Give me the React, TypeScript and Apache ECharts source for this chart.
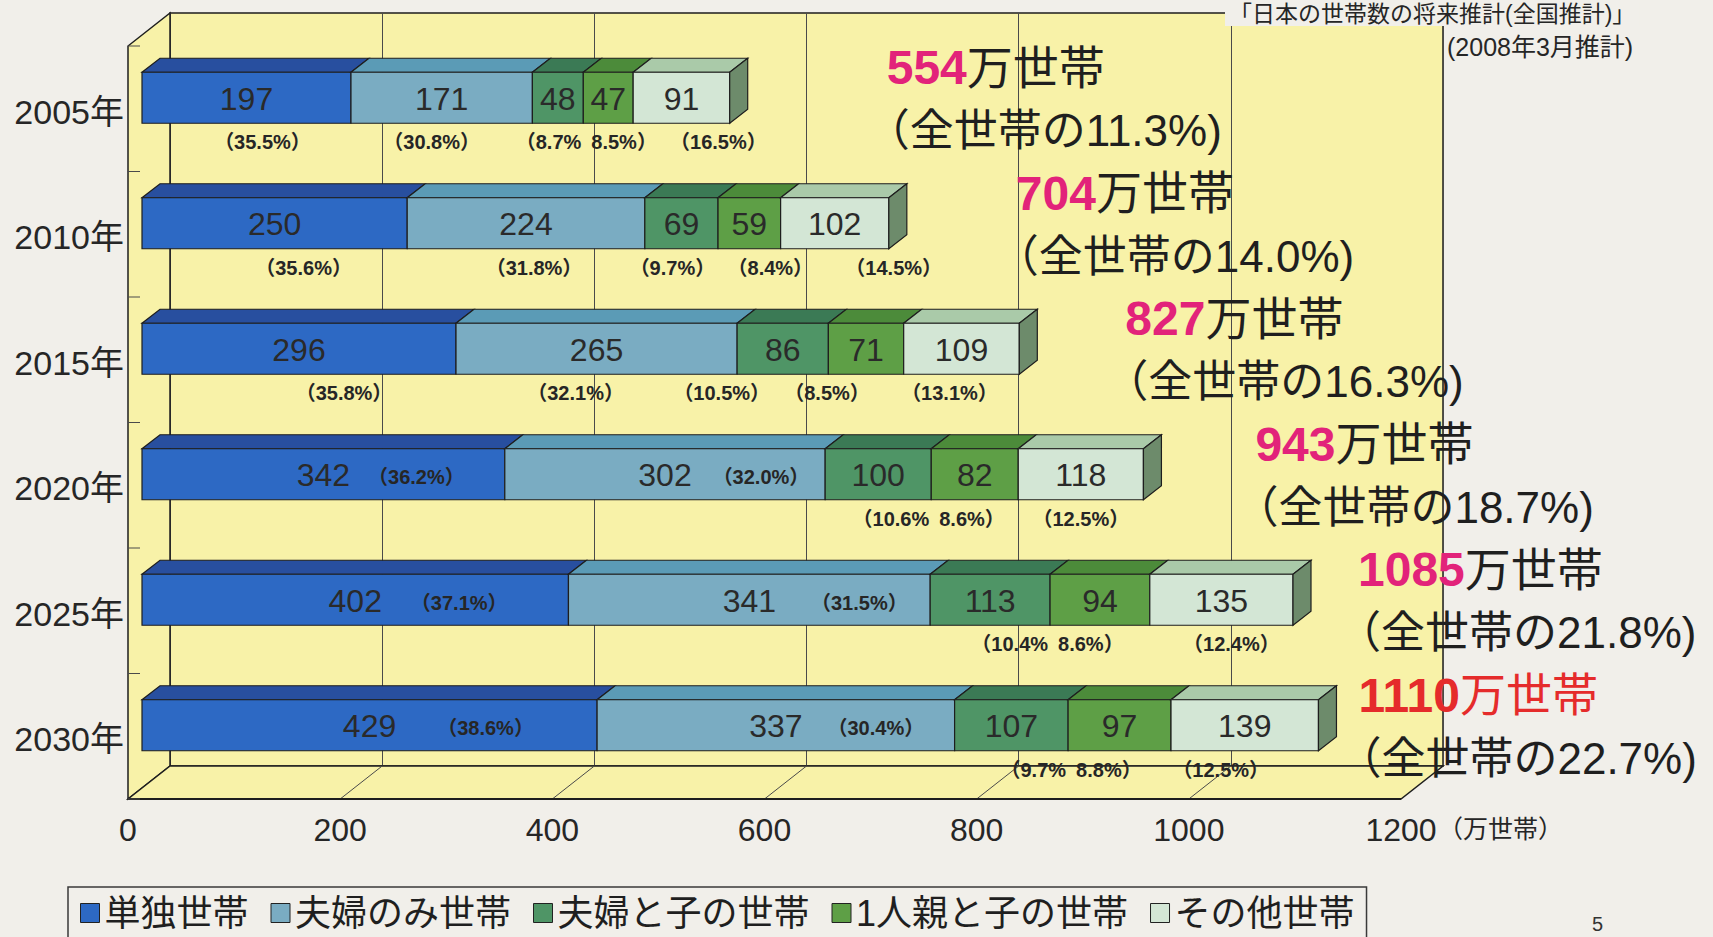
import React, { useEffect, useRef } from 'react';
import * as echarts from 'echarts';

// ---------- data ----------
const years = ['2005年', '2010年', '2015年', '2020年', '2025年', '2030年'];
const seriesNames = ['単独世帯', '夫婦のみ世帯', '夫婦と子の世帯', '1人親と子の世帯', 'その他世帯'];
const single = [197, 250, 296, 342, 402, 429];
const coupleOnly = [171, 224, 265, 302, 341, 337];
const coupleChildren = [48, 69, 86, 100, 113, 107];
const singleParent = [47, 59, 71, 82, 94, 97];
const others = [91, 102, 109, 118, 135, 139];
const singlePct = [35.5, 35.6, 35.8, 36.2, 37.1, 38.6];
const coupleOnlyPct = [30.8, 31.8, 32.1, 32.0, 31.5, 30.4];
const coupleChildrenPct = [8.7, 9.7, 10.5, 10.6, 10.4, 9.7];
const singleParentPct = [8.5, 8.4, 8.5, 8.6, 8.6, 8.8];
const othersPct = [16.5, 14.5, 13.1, 12.5, 12.4, 12.5];
const totals = [554, 704, 827, 943, 1085, 1110];
const totalShare = [11.3, 14.0, 16.3, 18.7, 21.8, 22.7];
const X_MIN = 0;
const X_MAX = 1200;
const X_INTERVAL = 200;
const X_UNIT = '（万世帯）';
const SOURCE_1 = '「日本の世帯数の将来推計(全国推計)」';
const SOURCE_2 = '(2008年3月推計)';
const PAGE_NO = '5';

// ---------- styles ----------
const FONT = "'Liberation Sans', 'Noto Sans CJK JP', sans-serif";
const PAGE_BG = '#f1efea';
const WALL = '#f8f2a8';
const EDGE = '#1e1e1e';
const GRID = '#4a4a4a';
const TEXT = '#262626';
const palette = [
  { front: '#2d69c4', top: '#284f9f' },
  { front: '#7aacc2', top: '#5b9bb6' },
  { front: '#4f9566', top: '#3b7a55' },
  { front: '#5e9f46', top: '#4c8b3a' },
  { front: '#d3e6d5', top: '#aacaa9', side: '#6d8b6b' },
];
// 3D geometry (pixel offsets from the back wall plane)
const WALL_DX = -42;
const WALL_DY = 33;
const FACE_DX = -28;
const FACE_DY = 22;
const FACE_H = 51;
const DEPTH_DX = 18;
const DEPTH_DY = -14;
const YEAR_LABEL_GAP = 46;
const YEAR_LABEL_DY = 36;
const INLINE_PCT_FROM = 3; // from 2020 on, first two segment percents sit inline
const pairedPct = [true, false, false, true, true, true];
// fine horizontal nudges of the percent labels (px), per segment, per year
const pctDx = [
  [16, 29, 45, -9, 2, 14],
  [-10, 8, -21, -6, 8, -2],
  [0, -9, -61, 0, 0, 0],
  [0, 21, -39, 0, 0, 0],
  [37, 59, -12, 0, 10, -24],
];
const totalDx = [157, 127, 106, 112, 65, 40];

const segValues = [single, coupleOnly, coupleChildren, singleParent, others];
const segPcts = [singlePct, coupleOnlyPct, coupleChildrenPct, singleParentPct, othersPct];

function buildSeries(): any[] {
  const list: any[] = [];
  // background: left wall, floor, year labels
  list.push({
    type: 'custom',
    name: '_bg',
    z: 1,
    clip: false,
    silent: true,
    data: [[0, 0]],
    renderItem: (params: any, api: any) => {
      const cs = params.coordSys;
      const L = cs.x, T = cs.y, R = cs.x + cs.width, B = cs.y + cs.height;
      const band = cs.height / years.length;
      const children: any[] = [];
      children.push({
        type: 'polygon',
        shape: { points: [[L, T], [L, B], [L + WALL_DX, B + WALL_DY], [L + WALL_DX, T + WALL_DY]] },
        style: { fill: WALL, stroke: EDGE, lineWidth: 1.5 },
      });
      children.push({
        type: 'polygon',
        shape: { points: [[L, B], [R, B], [R + WALL_DX, B + WALL_DY], [L + WALL_DX, B + WALL_DY]] },
        style: { fill: WALL, stroke: EDGE, lineWidth: 1.5 },
      });
      for (let v = X_MIN + X_INTERVAL; v < X_MAX; v += X_INTERVAL) {
        const x = api.coord([v, 0])[0];
        children.push({
          type: 'line',
          shape: { x1: x, y1: B, x2: x + WALL_DX, y2: B + WALL_DY },
          style: { stroke: GRID, lineWidth: 1 },
        });
      }
      children.push({
        type: 'line',
        shape: { x1: L + WALL_DX, y1: B + WALL_DY, x2: R + WALL_DX, y2: B + WALL_DY },
        style: { stroke: EDGE, lineWidth: 2.2 },
      });
      for (let i = 0; i <= years.length; i++) {
        const y = T + band * i + WALL_DY;
        children.push({
          type: 'line',
          shape: { x1: L + WALL_DX, y1: y, x2: L + WALL_DX + 12, y2: y },
          style: { stroke: GRID, lineWidth: 1 },
        });
      }
      years.forEach((yr, i) => {
        const yc = api.coord([0, i])[1];
        children.push({
          type: 'text',
          style: {
            text: yr, x: L - YEAR_LABEL_GAP, y: yc + YEAR_LABEL_DY, align: 'right', verticalAlign: 'middle',
            fontSize: 34, fontFamily: FONT, fill: TEXT,
          },
        });
      });
      const xr = api.coord([X_MAX, 0])[0] + WALL_DX;
      children.push({
        type: 'text',
        style: {
          text: X_UNIT, x: xr + 37, y: B + 48 + 15, align: 'left', verticalAlign: 'middle',
          fontSize: 25, fontFamily: FONT, fill: TEXT,
        },
      });
      return { type: 'group', children };
    },
  });

  segValues.forEach((vals, s) => {
    const data = vals.map((v, i) => {
      let start = 0;
      for (let k = 0; k < s; k++) start += segValues[k][i];
      return [start, start + v, i, v, segPcts[s][i]];
    });
    const col = palette[s];
    const isLast = s === segValues.length - 1;
    list.push({
      type: 'custom',
      name: seriesNames[s],
      z: 2,
      clip: false,
      itemStyle: { color: col.front },
      encode: { x: [0, 1], y: 2 },
      data,
      renderItem: (params: any, api: any) => {
        const start = api.value(0), end = api.value(1), i = api.value(2);
        const val = api.value(3), pct = api.value(4);
        const a = api.coord([start, i]);
        const b = api.coord([end, i]);
        const yc = a[1];
        const x0 = a[0] + FACE_DX, x1 = b[0] + FACE_DX;
        const top = yc + FACE_DY - FACE_H / 2;
        const bot = top + FACE_H;
        const mid = (top + bot) / 2;
        const cx = (x0 + x1) / 2;
        const dx = pctDx[s][i];
        const children: any[] = [];
        children.push({
          type: 'polygon',
          shape: { points: [[x0, top], [x1, top], [x1 + DEPTH_DX, top + DEPTH_DY], [x0 + DEPTH_DX, top + DEPTH_DY]] },
          style: { fill: col.top, stroke: EDGE, lineWidth: 1.2 },
        });
        children.push({
          type: 'rect',
          shape: { x: x0, y: top, width: x1 - x0, height: FACE_H },
          style: { fill: col.front, stroke: EDGE, lineWidth: 1.2 },
        });
        if (isLast) {
          children.push({
            type: 'polygon',
            shape: { points: [[x1, top], [x1 + DEPTH_DX, top + DEPTH_DY], [x1 + DEPTH_DX, bot + DEPTH_DY], [x1, bot]] },
            style: { fill: col.side, stroke: EDGE, lineWidth: 1.2 },
          });
        }
        children.push({
          type: 'text',
          style: {
            text: String(val), x: cx, y: mid + 1, align: 'center', verticalAlign: 'middle',
            fontSize: 32, fontFamily: FONT, fill: '#2a2a2a',
          },
        });
        const p = Number(pct).toFixed(1);
        const pctStyle = { fontSize: 20, fontWeight: 'bold', fontFamily: FONT, fill: TEXT, verticalAlign: 'middle' };
        let ps: any;
        if (i >= INLINE_PCT_FROM && s < 2) {
          ps = { text: `（${p}%）`, x: cx + 102 + dx, y: mid + 3, align: 'center' };
        } else if (s === 2 && pairedPct[i]) {
          ps = { text: `（${p}%`, x: x1 - 2 + dx, y: bot + 19, align: 'right' };
        } else if (s === 3 && pairedPct[i]) {
          ps = { text: `${p}%）`, x: x0 + 8 + dx, y: bot + 19, align: 'left' };
        } else {
          ps = { text: `（${p}%）`, x: cx + dx, y: bot + 19, align: 'center' };
        }
        children.push({ type: 'text', style: { ...pctStyle, ...ps } });
        return { type: 'group', children };
      },
    });
  });

  // totals on the right
  const totalData = totals.map((t, i) => {
    let sum = 0;
    for (let k = 0; k < segValues.length; k++) sum += segValues[k][i];
    return [sum, i, t, totalShare[i]];
  });
  list.push({
    type: 'custom',
    name: '_totals',
    z: 3,
    clip: false,
    silent: true,
    encode: { x: 0, y: 1 },
    data: totalData,
    renderItem: (params: any, api: any) => {
      const sum = api.value(0), i = api.value(1), t = api.value(2), sh = api.value(3);
      const c = api.coord([sum, i]);
      const x = c[0] + FACE_DX + totalDx[i];
      const yc = c[1];
      const last = i === years.length - 1;
      const numColor = last ? '#e52b2b' : '#e2237a';
      const unitColor = last ? '#e52b2b' : '#1f1f1f';
      return {
        type: 'group',
        children: [
          {
            type: 'text',
            style: {
              text: `{n|${t}}{u|万世帯}`, x, y: yc - 8, align: 'left', verticalAlign: 'middle',
              rich: {
                n: { fontSize: 48, fontWeight: 'bold', fontFamily: FONT, fill: numColor },
                u: { fontSize: 46, fontFamily: FONT, fill: unitColor },
              },
            },
          },
          {
            type: 'text',
            style: {
              text: `（全世帯の${Number(sh).toFixed(1)}%)`, x: x - 21, y: yc + 55, align: 'left', verticalAlign: 'middle',
              fontSize: 44, fontFamily: FONT, fill: '#1f1f1f',
            },
          },
        ],
      };
    },
  });
  return list;
}

const option: any = {
  animation: false,
  backgroundColor: PAGE_BG,
  textStyle: { fontFamily: FONT },
  grid: {
    show: true, left: 170, right: 270, top: 13, bottom: 171,
    backgroundColor: WALL, borderColor: EDGE, borderWidth: 1.5,
  },
  xAxis: {
    type: 'value', min: X_MIN, max: X_MAX, interval: X_INTERVAL,
    axisLine: { show: false }, axisTick: { show: false },
    splitLine: { show: true, lineStyle: { color: GRID, width: 1 } },
    axisLabel: {
      margin: 48, fontSize: 32, color: TEXT, fontFamily: FONT,
      padding: [0, 84, 0, 0],
      formatter: (v: number) => String(v),
    },
  },
  yAxis: {
    type: 'category', data: years, inverse: true,
    axisLine: { show: false }, axisTick: { show: false }, splitLine: { show: false },
    axisLabel: { show: false },
  },
  legend: {
    data: seriesNames, left: 68, top: 887, orient: 'horizontal',
    icon: 'rect', itemWidth: 19, itemHeight: 19, itemGap: 22,
    borderColor: '#3a3a3a', borderWidth: 1.5, padding: [8, 12, 12, 12],
    selectedMode: false,
    itemStyle: { borderColor: '#222', borderWidth: 1 },
    textStyle: { fontSize: 36, color: '#1f1f1f', fontFamily: FONT },
  },
  graphic: [
    {
      type: 'text', left: 1225, top: 2, z: 100,
      style: {
        text: SOURCE_1, fontSize: 23, fill: TEXT, fontFamily: FONT,
        backgroundColor: PAGE_BG, padding: [0, 4, 1, 4],
      },
    },
    { type: 'text', left: 1447, top: 34, style: { text: SOURCE_2, fontSize: 25, fill: TEXT, fontFamily: FONT } },
    { type: 'text', left: 1592, top: 914, style: { text: PAGE_NO, fontSize: 20, fill: '#333', fontFamily: FONT } },
  ],
  series: buildSeries(),
};

export default function App() {
  const ref = useRef<HTMLDivElement>(null);
  useEffect(() => {
    if (!ref.current) return;
    const chart = echarts.init(ref.current, null, { renderer: 'svg' });
    chart.setOption(option);
    return () => chart.dispose();
  }, []);
  return (
    <div style={{ position: 'fixed', left: 0, top: 0, width: 1713, height: 937, background: PAGE_BG, overflow: 'hidden' }}>
      <div ref={ref} style={{ width: 1713, height: 937 }} />
    </div>
  );
}
